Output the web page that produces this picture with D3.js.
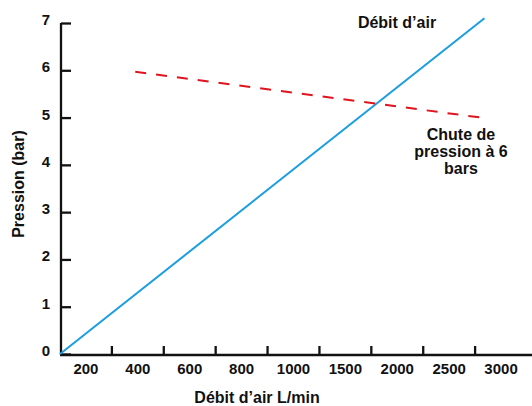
<!DOCTYPE html>
<html>
<head>
<meta charset="utf-8">
<script src="https://cdn.jsdelivr.net/npm/d3@7"></script>
<style>
  body { margin: 0; background: #fff; }
  text { font-family: "Liberation Sans", Arial, sans-serif; font-weight: bold; fill: #111; }
</style>
</head>
<body>
<svg></svg>
<script>
const width = 532, height = 406;

// category labels along the x axis (L/min)
const flowTicks = [200, 400, 600, 800, 1000, 1500, 2000, 2500, 3000];
const pressureTicks = [0, 1, 2, 3, 4, 5, 6, 7];

// air flow line
const flowX = [100, 2840];
const flowY = [0, 7.1];

// pressure drop at 6 bars
const dropX = [390, 2840];
const dropY = [5.97, 4.99];

const svg = d3.select('svg')
    .attr('width', width)
    .attr('height', height);

const plotLeft = 60, plotRight = 527, plotTop = 23, plotBottom = 354;
const band = (plotRight - plotLeft) / flowTicks.length;

// piecewise scale: each label sits in the middle of its own slot
const x = d3.scaleLinear()
    .domain(flowTicks)
    .range(flowTicks.map((d, i) => plotLeft + band * (i + 0.5)));

const y = d3.scaleLinear()
    .domain([0, 7])
    .range([plotBottom, plotTop]);

// y axis
const yAxis = svg.append('g')
    .attr('transform', `translate(${plotLeft + 1},0)`)
    .call(d3.axisRight(y).tickValues(pressureTicks).tickSize(10).tickFormat(''));
yAxis.select('.domain').attr('stroke', '#111').attr('stroke-width', 2.3)
    .attr('d', `M0,${plotTop}V${plotBottom + 1}`);
yAxis.selectAll('.tick line').attr('stroke', '#111').attr('stroke-width', 2.3);

svg.append('g').selectAll('text')
    .data(pressureTicks)
    .enter().append('text')
      .attr('x', 50)
      .attr('y', d => y(d) + 2)
      .attr('text-anchor', 'end')
      .style('font-size', '15px')
      .text(d => d);

// x axis: slot boundaries as ticks
const bounds = d3.range(1, flowTicks.length).map(i => plotLeft + band * i);
svg.append('line')
    .attr('x1', plotLeft).attr('x2', width)
    .attr('y1', plotBottom + 1).attr('y2', plotBottom + 1)
    .attr('stroke', '#111').attr('stroke-width', 2.3);
svg.append('g').selectAll('line')
    .data(bounds)
    .enter().append('line')
      .attr('x1', d => d).attr('x2', d => d)
      .attr('y1', plotBottom).attr('y2', plotBottom - 8)
      .attr('stroke', '#111').attr('stroke-width', 2.3);

svg.append('g').selectAll('text')
    .data(flowTicks)
    .enter().append('text')
      .attr('x', d => x(d))
      .attr('y', 374)
      .attr('text-anchor', 'middle')
      .style('font-size', '15px')
      .text(d => d);

// axis titles
svg.append('text')
    .attr('x', 257).attr('y', 403)
    .attr('text-anchor', 'middle')
    .style('font-size', '16px')
    .text('Débit d’air L/min');

svg.append('text')
    .attr('transform', 'translate(24,184) rotate(-90)')
    .attr('text-anchor', 'middle')
    .style('font-size', '16px')
    .text('Pression (bar)');

// series
const line = d3.line()
    .x(d => x(d[0]))
    .y(d => y(d[1]));

svg.append('path')
    .datum(d3.zip(flowX, flowY))
    .attr('d', line)
    .attr('fill', 'none')
    .attr('stroke', '#1a9ee0')
    .attr('stroke-width', 2);

svg.append('path')
    .datum(d3.zip(dropX, dropY))
    .attr('d', line)
    .attr('fill', 'none')
    .attr('stroke', '#e0141e')
    .attr('stroke-width', 2)
    .attr('stroke-dasharray', '11,10');

// annotations
svg.append('text')
    .attr('x', 397).attr('y', 28)
    .attr('text-anchor', 'middle')
    .style('font-size', '16px')
    .text('Débit d’air');

svg.append('text')
    .attr('text-anchor', 'middle')
    .style('font-size', '16px')
    .selectAll('tspan')
    .data(['Chute de', 'pression à 6', 'bars'])
    .enter().append('tspan')
      .attr('x', 461)
      .attr('y', (d, i) => 140 + i * 17)
      .text(d => d);
</script>
</body>
</html>
